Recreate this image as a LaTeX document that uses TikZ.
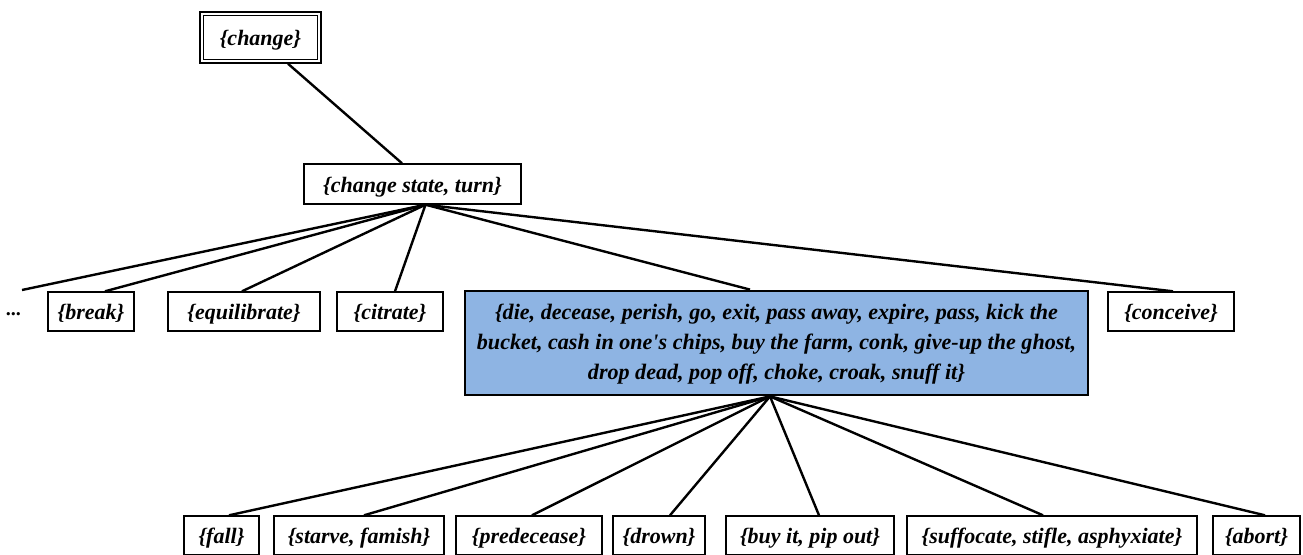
\documentclass[tikz,border=0pt]{standalone}
\usepackage{fontspec}
\setmainfont{Liberation Serif}
\definecolor{dieblue}{RGB}{142,180,227}
\newcommand{\straightq}{{\addfontfeatures{Ligatures=TeXOff}'}}
\begin{document}
\begin{tikzpicture}[x=1pt,y=-1pt,
  box/.style={draw=black,line width=1.4pt,fill=white,inner sep=0pt,minimum height=39pt,text height=18pt,text depth=2pt,font=\fontsize{22}{24}\selectfont\bfseries\itshape},
  conn/.style={line width=2.4pt,black}]
\useasboundingbox (0,0) rectangle (1303,554);
\clip (0,0) rectangle (1303,554);
\node[box,draw=none,fill=none,minimum width=121pt,minimum height=51pt] (change) at (260.5,37.5) {\{change\}};
\draw[line width=1.1pt] (200,12) rectangle (321,63);
\draw[line width=1.1pt] (203.5,15.5) rectangle (317.5,59.5);
\node[box,minimum width=217pt,minimum height=40pt] (cst) at (412.5,184) {\{change state, turn\}};
\node[font=\fontsize{20}{22}\selectfont\bfseries\itshape,inner sep=0pt] (dots) at (14,314) {...};
\coordinate (dotsend) at (22,290);
\node[box,minimum width=86pt] (break) at (91,311.5) {\{break\}};
\node[box,minimum width=152pt] (equil) at (244,311.5) {\{equilibrate\}};
\node[box,minimum width=106pt] (citrate) at (390,311.5) {\{citrate\}};
\node[box,minimum width=126pt] (conceive) at (1171,311.5) {\{conceive\}};
\node[draw=black,fill=dieblue,line width=2.8pt,inner sep=0pt,minimum width=623pt,minimum height=104pt,font=\fontsize{22.1}{30}\selectfont\bfseries\itshape] (die) at (776.5,343)
 {\raisebox{-3pt}{\begin{tabular}{@{}c@{}}\{die, decease, perish, go, exit, pass away, expire, pass, kick the\\ bucket, cash in one\straightq s chips, buy the farm, conk, give-up the ghost,\\ drop dead, pop off, choke, croak, snuff it\}\end{tabular}}};
\node[box,minimum width=75pt] (fall) at (221.5,535.5) {\{fall\}};
\node[box,minimum width=170pt] (starve) at (359,535.5) {\{starve, famish\}};
\node[box,minimum width=146pt] (prede) at (529,535.5) {\{predecease\}};
\node[box,minimum width=92pt] (drown) at (659,535.5) {\{drown\}};
\node[box,minimum width=168pt] (buyit) at (810,535.5) {\{buy it, pip out\}};
\node[box,minimum width=290pt] (suff) at (1052,535.5) {\{suffocate, stifle, asphyxiate\}};
\node[box,minimum width=87pt] (abort) at (1256.5,535.5) {\{abort\}};
\draw[conn] ([xshift=27.5pt]change.south) -- ([xshift=-10.5pt]cst.north);
\foreach \t/\s in {dotsend/0,break.north/14,equil.north/-2,citrate.north/5,die.north/-26.5,conceive.north/2}
  \draw[conn] ([xshift=13pt]cst.south) -- ([xshift=\s pt]\t);
\foreach \t/\s in {fall/7.5,starve/5,prede/3,drown/11,buyit/9,suff/-9,abort/8.5}
  \draw[conn] ([xshift=-6.5pt]die.south) -- ([xshift=\s pt]\t.north);
\end{tikzpicture}
\end{document}
